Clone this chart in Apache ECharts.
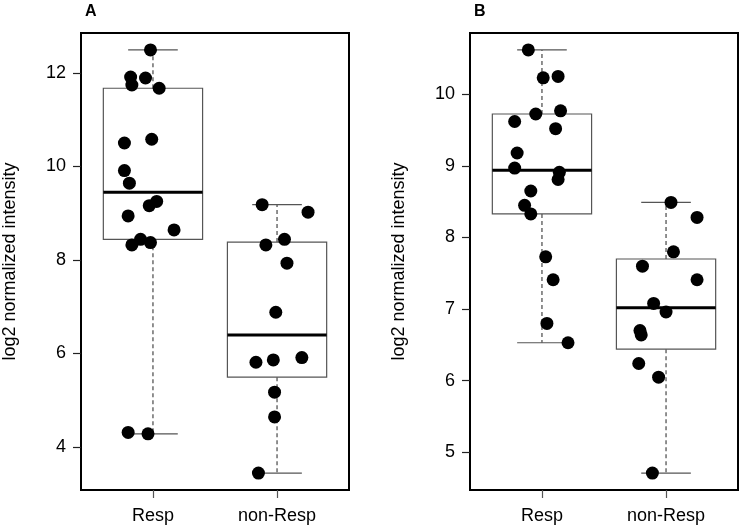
<!DOCTYPE html>
<html>
<head>
<meta charset="utf-8">
<script src="https://cdn.jsdelivr.net/npm/echarts@6/dist/echarts.min.js"></script>
<style>html,body{margin:0;padding:0;background:#fff}#c{width:740px;height:527px}</style>
</head>
<body>
<div id="c"></div>
<script>
// ---- data ----
const categories = ['Resp', 'non-Resp'];
const panelTitles = ['A', 'B'];
const yAxisTitle = 'log2 normalized intensity';
const yTicksA = [4, 6, 8, 10, 12];
const yTicksB = [5, 6, 7, 8, 9, 10];

// Panel A
const aRespY = [12.49, 11.91, 11.89, 11.74, 11.67, 10.50, 10.58, 9.91, 9.64, 9.16, 9.25, 8.94, 8.64, 8.32, 8.44, 8.37, 4.31, 4.28];
const aRespX = [0.98, 0.82, 0.94, 0.83, 1.05, 0.77, 0.99, 0.77, 0.81, 0.97, 1.03, 0.80, 1.17, 0.83, 0.90, 0.98, 0.80, 0.96];
const aNonY = [9.18, 9.02, 8.32, 8.44, 7.93, 6.88, 5.81, 5.86, 5.91, 5.17, 4.64, 3.44];
const aNonX = [1.88, 2.25, 1.91, 2.06, 2.08, 1.99, 1.83, 1.97, 2.20, 1.98, 1.98, 1.85];

// Panel B
const bRespY = [10.62, 10.23, 10.25, 9.725, 9.77, 9.62, 9.52, 9.18, 8.97, 8.91, 8.81, 8.65, 8.45, 8.33, 7.73, 7.41, 6.80, 6.53];
const bRespX = [0.89, 1.01, 1.13, 0.95, 1.15, 0.78, 1.11, 0.80, 0.78, 1.14, 1.13, 0.91, 0.86, 0.91, 1.03, 1.09, 1.04, 1.21];
const bNonY = [8.49, 8.28, 7.80, 7.60, 7.41, 7.08, 6.96, 6.70, 6.64, 6.24, 6.05, 4.71];
const bNonX = [2.04, 2.25, 2.06, 1.81, 2.25, 1.90, 2.00, 1.79, 1.80, 1.78, 1.94, 1.89];

// ---- statistics (R's boxplot.stats) ----
function fivenum(arr) {
  const xs = arr.slice().sort((a, b) => a - b);
  const n = xs.length;
  const n4 = Math.floor((n + 3) / 2) / 2;
  const d = [1, n4, (n + 1) / 2, n + 1 - n4, n];
  return d.map(v => 0.5 * (xs[Math.floor(v) - 1] + xs[Math.ceil(v) - 1]));
}
function boxStats(arr, pos) {
  const s = fivenum(arr);
  const iqr = s[3] - s[1];
  const inside = arr.filter(v => v >= s[1] - 1.5 * iqr && v <= s[3] + 1.5 * iqr);
  return [pos, Math.min(...inside), s[1], s[2], s[3], Math.max(...inside)];
}
function yRange(groups) {
  const all = [].concat(...groups);
  const lo = Math.min(...all), hi = Math.max(...all), ext = (hi - lo) * 0.04;
  return [lo - ext, hi + ext];
}
const zip = (xs, ys) => xs.map((x, i) => [x, ys[i]]);

const FONT = "'Liberation Sans', Arial, Helvetica, sans-serif";
const BOX_COLOR = '#555';

function renderBox(params, api) {
  const pos = api.value(0), lo = api.value(1), q1 = api.value(2), med = api.value(3), q3 = api.value(4), hi = api.value(5);
  const hw = 0.4, cw = 0.2;
  const tl = api.coord([pos - hw, q3]);
  const br = api.coord([pos + hw, q1]);
  const mL = api.coord([pos - hw, med]);
  const mR = api.coord([pos + hw, med]);
  const c = api.coord([pos, q3]);
  const cHi = api.coord([pos, hi]);
  const cQ1 = api.coord([pos, q1]);
  const cLo = api.coord([pos, lo]);
  const capHiL = api.coord([pos - cw, hi]), capHiR = api.coord([pos + cw, hi]);
  const capLoL = api.coord([pos - cw, lo]), capLoR = api.coord([pos + cw, lo]);
  const dashed = { stroke: '#555', lineWidth: 1.3, lineDash: [4, 3] };
  const solid = { stroke: BOX_COLOR, lineWidth: 1.2 };
  return {
    type: 'group',
    children: [
      { type: 'line', shape: { x1: c[0], y1: c[1], x2: cHi[0], y2: cHi[1] }, style: dashed },
      { type: 'line', shape: { x1: cQ1[0], y1: cQ1[1], x2: cLo[0], y2: cLo[1] }, style: dashed },
      { type: 'line', shape: { x1: capHiL[0], y1: capHiL[1], x2: capHiR[0], y2: capHiR[1] }, style: solid },
      { type: 'line', shape: { x1: capLoL[0], y1: capLoL[1], x2: capLoR[0], y2: capLoR[1] }, style: solid },
      { type: 'rect', shape: { x: tl[0], y: tl[1], width: br[0] - tl[0], height: br[1] - tl[1] }, style: { fill: 'none', stroke: BOX_COLOR, lineWidth: 1.2 } },
      { type: 'line', shape: { x1: mL[0], y1: mL[1], x2: mR[0], y2: mR[1] }, style: { stroke: '#000', lineWidth: 3 } }
    ]
  };
}

const panels = [
  { groups: [aRespY, aNonY], xs: [aRespX, aNonX], ticks: yTicksA, left: 81 },
  { groups: [bRespY, bNonY], xs: [bRespX, bNonX], ticks: yTicksB, left: 470 }
];

const grid = [], xAxis = [], yAxis = [], series = [], title = [];
panels.forEach((p, i) => {
  const [ymin, ymax] = yRange(p.groups);
  grid.push({ left: p.left, top: 33, width: 268, height: 457, show: true, borderColor: '#000', borderWidth: 2, backgroundColor: 'transparent' });
  title.push({ text: panelTitles[i], left: p.left - 1, top: -1, textStyle: { fontFamily: FONT, fontSize: 16, fontWeight: 'bold', color: '#000' } });
  xAxis.push({
    type: 'value', gridIndex: i, min: 0.42, max: 2.58,
    axisLine: { show: true, lineStyle: { color: '#000', width: 2 } },
    axisTick: { show: true, customValues: [1, 2], length: 8, lineStyle: { color: '#555', width: 1.2 } },
    axisLabel: { show: true, customValues: [1, 2], formatter: v => categories[Math.round(v) - 1] || '', margin: 17, fontFamily: FONT, fontSize: 18, color: '#000' },
    splitLine: { show: false }
  });
  yAxis.push({
    type: 'value', gridIndex: i, min: ymin, max: ymax,
    name: yAxisTitle, nameLocation: 'middle', nameGap: 62,
    nameTextStyle: { fontFamily: FONT, fontSize: 18, color: '#000' },
    axisLine: { show: true, lineStyle: { color: '#000', width: 2 } },
    axisTick: { show: true, customValues: p.ticks, length: 8, lineStyle: { color: '#222', width: 1.2 } },
    axisLabel: { show: true, customValues: p.ticks, margin: 15, fontFamily: FONT, fontSize: 18, color: '#000' },
    splitLine: { show: false }
  });
  series.push({
    type: 'custom', xAxisIndex: i, yAxisIndex: i, z: 2, silent: true,
    renderItem: renderBox,
    encode: { x: 0, y: [1, 2, 3, 4, 5] },
    data: p.groups.map((g, k) => boxStats(g, k + 1))
  });
  p.groups.forEach((g, k) => {
    series.push({
      type: 'scatter', xAxisIndex: i, yAxisIndex: i, z: 5, silent: true,
      symbol: 'circle', symbolSize: 13,
      itemStyle: { color: '#000', opacity: 1 },
      data: zip(p.xs[k], g)
    });
  });
});

const chart = echarts.init(document.getElementById('c'), null, { renderer: 'canvas' });
chart.setOption({ animation: false, backgroundColor: '#fff', title, grid, xAxis, yAxis, series });
</script>
</body>
</html>
